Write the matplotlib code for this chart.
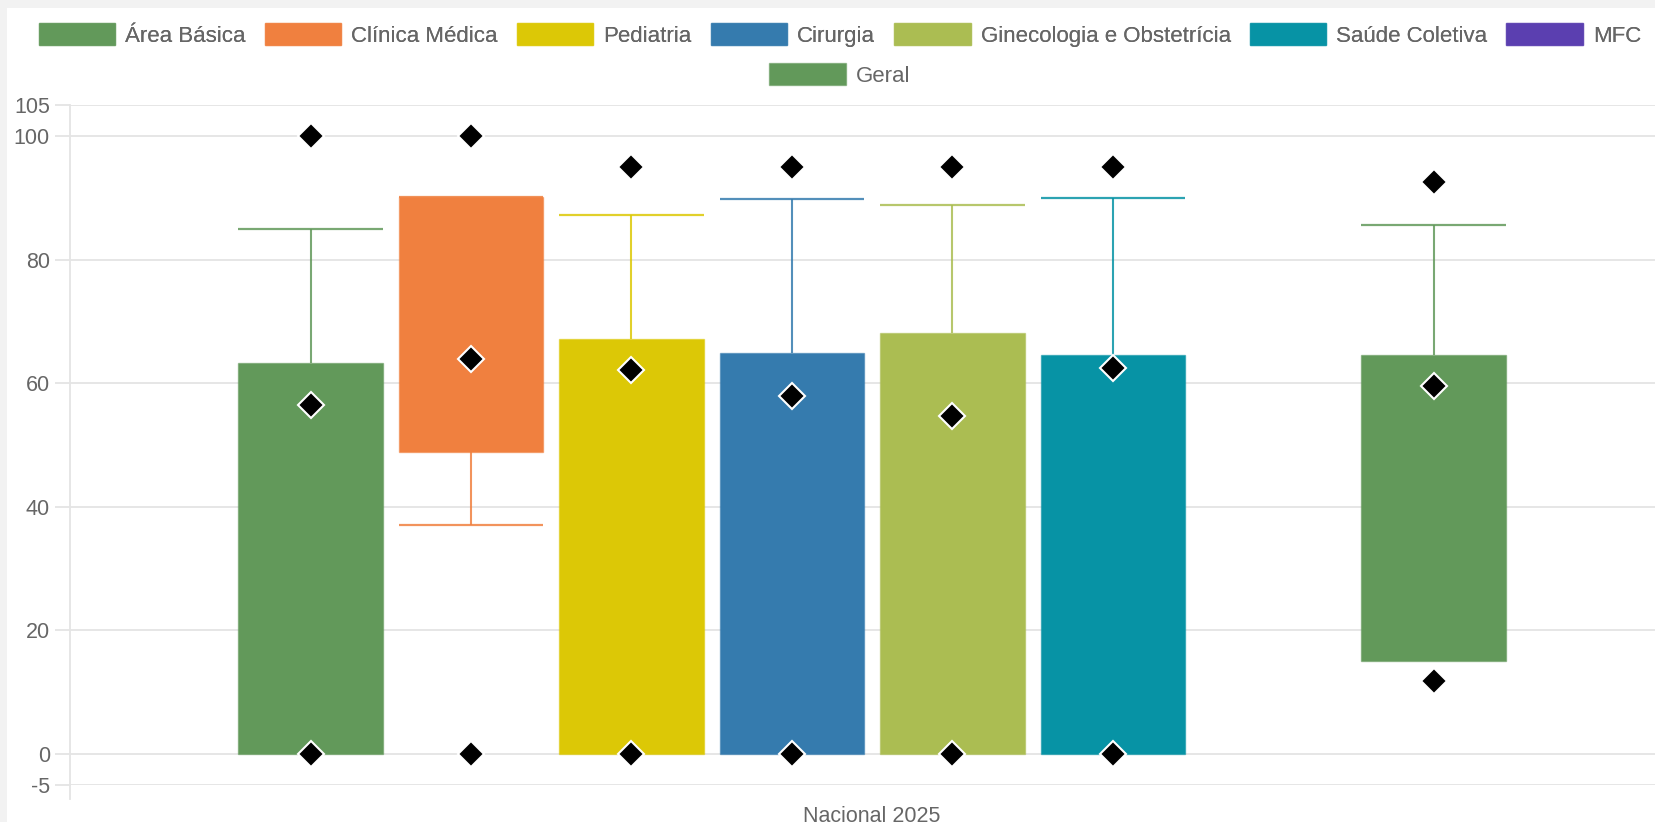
import numpy as np
import matplotlib
matplotlib.use("Agg")
import matplotlib.pyplot as plt
from matplotlib.patches import Patch, Rectangle
from matplotlib.lines import Line2D

plt.rcParams['font.family'] = ['Liberation Sans', 'DejaVu Sans']

# data
categories = ["Área Básica", "Clínica Médica", "Pediatria", "Cirurgia",
              "Ginecologia e Obstetrícia", "Saúde Coletiva", "MFC", "Geral"]
colors = ["#62995a", "#f0803f", "#dcc806", "#357bae",
          "#abbd52", "#0793a5", "#5b3fb0", "#62995a"]
q1 = [0, 48.9, 0, 0, 0, 0, np.nan, 15.0]
q3 = [63.2, 90.1, 67.1, 64.9, 68.2, 64.5, np.nan, 64.6]
whisker_low = [0, 37.0, 0, 0, 0, 0, np.nan, 15.0]
whisker_high = [84.9, 90.1, 87.2, 89.9, 88.9, 90.0, np.nan, 85.6]
means = [56.5, 63.9, 62.1, 57.9, 54.7, 62.4, np.nan, 59.6]
minimum = [0, 0, 0, 0, 0, 0, np.nan, 11.7]
maximum = [100, 100, 95, 95, 95, 95, np.nan, 92.6]
yticks = [-5, 0, 20, 40, 60, 80, 100, 105]
group_label = "Nacional 2025"

W, H = 1655, 822
fig = plt.figure(figsize=(W / 100, H / 100), dpi=100)
fig.patch.set_facecolor("#f2f2f2")
fig.patches.append(Rectangle((7 / W, 0), 1, 1 - 8 / H, transform=fig.transFigure,
                             facecolor="white", edgecolor="none", zorder=-10))

ax = fig.add_axes([70 / W, 1 - 784.5 / H, 1 - 70 / W, (784.5 - 105.3) / H])
ax.set_facecolor("none")
ax.set_xlim(-1.5, 8.38)
ax.set_ylim(-5, 105)

txt = "#666666"
grid = "#e4e4e4"
bw = 0.9
x = np.arange(len(categories))

for i in range(len(categories)):
    if np.isnan(q3[i]):
        continue
    c = colors[i]
    ax.bar(x[i], q3[i] - q1[i], bottom=q1[i], width=bw, color=c,
           edgecolor=matplotlib.colors.to_rgba(c, 0.55), linewidth=1, zorder=2)
    # upper whisker
    if whisker_high[i] > q3[i]:
        ax.vlines(x[i], q3[i], whisker_high[i], color=c, alpha=0.85, lw=1.5, zorder=2)
    ax.hlines(whisker_high[i], x[i] - bw / 2, x[i] + bw / 2, color=c, alpha=0.85, lw=1.6, zorder=2)
    # lower whisker
    if whisker_low[i] < q1[i]:
        ax.vlines(x[i], whisker_low[i], q1[i], color=c, alpha=0.85, lw=1.5, zorder=2)
        ax.hlines(whisker_low[i], x[i] - bw / 2, x[i] + bw / 2, color=c, alpha=0.85, lw=1.6, zorder=2)

for vals in (minimum, means, maximum):
    ax.plot(x, vals, linestyle="none", marker="D", markersize=13.5,
            markerfacecolor="black", markeredgecolor="white", markeredgewidth=1.5,
            zorder=5, clip_on=False)

ax.set_yticks(yticks)
ax.set_yticklabels([str(t) for t in yticks])
ax.yaxis.grid(True, color=grid, linewidth=1.3, zorder=0)
ax.set_axisbelow(True)
ax.tick_params(axis="y", length=11, width=1.3, color=grid, labelcolor=txt,
               labelsize=15.5, pad=3.5)
ax.tick_params(axis="x", bottom=False, labelbottom=False)
for s in ("top", "right", "bottom"):
    ax.spines[s].set_visible(False)
ax.spines["left"].set_color(grid)
ax.spines["left"].set_linewidth(1.3)
ax.add_line(Line2D([-1.5, -1.5], [-5, -7.4], color=grid, lw=1.3, clip_on=False))

fig.text((310.3 + 3.5 * 160.4) / W, 1 - 806 / H, group_label, color=txt,
         fontsize=15.5, ha="center", va="top")

handles = [Patch(facecolor=c, edgecolor=matplotlib.colors.to_rgba(c, 0.55)) for c in colors]
leg_kw = dict(frameon=False, loc="center", fontsize=16, handlelength=3.45,
              handleheight=1.15, handletextpad=0.45, columnspacing=0.85, borderpad=0,
              labelcolor=txt)
leg1 = fig.legend(handles[:7], categories[:7], ncol=7,
                  bbox_to_anchor=(840 / W, 1 - 35 / H), **leg_kw)
fig.add_artist(leg1)
fig.legend(handles[7:], categories[7:], ncol=1,
           bbox_to_anchor=(840 / W, 1 - 75 / H), **leg_kw)

fig.savefig("out.png", dpi=100, facecolor=fig.get_facecolor())
